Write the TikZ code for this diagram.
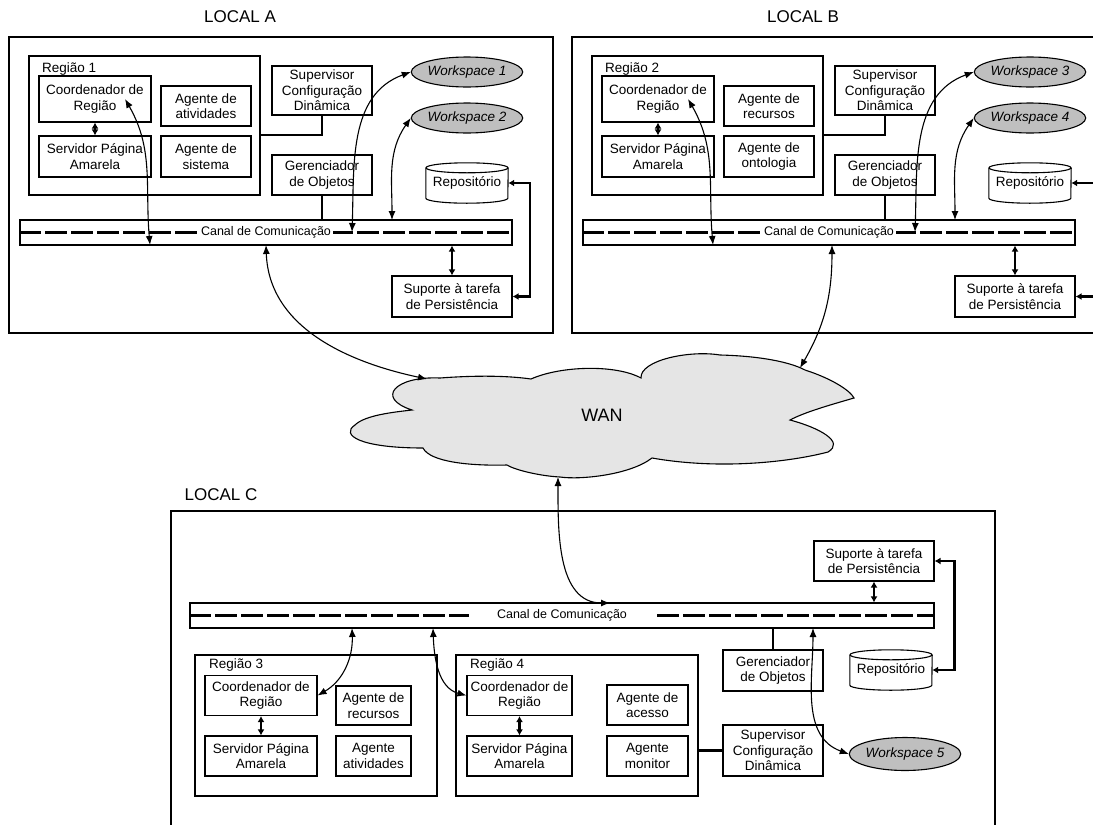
\documentclass[tikz,border=0pt]{standalone}
\usepackage{fontspec}
\setmainfont{Liberation Sans}
\usetikzlibrary{arrows.meta,shapes.geometric}

\tikzset{
	caixa/.style={draw, line width=1.1pt, align=center, inner sep=0pt, font=\fontsize{13.5}{15.5}\selectfont},
	regiao/.style={draw, line width=2.5pt, inner sep=0pt},
	local/.style={draw, line width=2.9pt, inner sep=0pt},
	rotulo/.style={anchor=west, inner sep=0pt, font=\fontsize{13.5}{15.5}\selectfont},
	titulo/.style={font=\fontsize{17}{20}\selectfont},
	ws/.style={ellipse, draw, line width=1.1pt, fill=gray!50, inner sep=0pt, minimum width=111pt, minimum height=30pt, font=\fontsize{13.5}{15.5}\selectfont\itshape},
	canal/.style={draw, line width=1.1pt, inner sep=0pt, minimum height=25pt},
	trilha/.style={line width=2.3pt, dash pattern=on 22pt off 4pt},
	nomecanal/.style={fill=white, inner ysep=1pt, font=\fontsize{12.5}{15}\selectfont},
	repo/.style={inner sep=0pt, minimum width=82pt, minimum height=30pt, font=\fontsize{13.5}{15.5}\selectfont},
	liga/.style={line width=2.5pt},
	dupla/.style={{Latex[length=6pt,width=7pt]}-{Latex[length=6pt,width=7pt]}, line width=2.2pt},
	seta/.style={{Latex[length=9pt,width=7pt]}-{Latex[length=9pt,width=7pt]}, line width=1.1pt},
}

\newcommand{\cilindro}[1]{%
	\draw[line width=1.1pt] (#1.north west) -- (#1.south west) arc[start angle=180, end angle=360, x radius=41pt, y radius=5pt] -- (#1.north east);
	\draw[line width=1.1pt] (#1.north) ellipse[x radius=41pt, y radius=5pt];
}

\begin{document}
\begin{tikzpicture}[x=1pt, y=-1pt]
	\useasboundingbox (0,0) rectangle (1093,825);
	\clip (0,0) rectangle (1093,825);

	% WAN
	\draw[line width=1.1pt, fill=gray!20]
		(412,410) .. controls (375,398) and (395,376) .. (440,378)
		.. controls (480,375) and (510,376) .. (531,379)
		.. controls (560,366) and (615,364) .. (641,378)
		.. controls (640,360) and (690,350) .. (720,355)
		.. controls (760,356) and (790,362) .. (805,370)
		.. controls (830,378) and (850,390) .. (854,398)
		.. controls (830,405) and (805,412) .. (790,420)
		.. controls (820,428) and (845,442) .. (828,452)
		.. controls (790,462) and (720,470) .. (652,458)
		.. controls (630,475) and (580,480) .. (560,477)
		.. controls (540,476) and (515,470) .. (507,465)
		.. controls (470,466) and (430,462) .. (423,448)
		.. controls (360,448) and (340,435) .. (355,425)
		.. controls (365,415) and (395,412) .. (412,410) -- cycle;
	\node[font=\fontsize{18}{20}\selectfont] (wan) at (602,415) {WAN};
	\coordinate (wanA) at (427,379);
	\coordinate (wanB) at (800,368);
	\coordinate (wanC) at (558,477);

	% LOCAL A
	\node[titulo] (tituloA) at (240,17) {LOCAL A};
	\node[local, minimum width=544pt, minimum height=296pt] (localA) at (281,185) {};
	\node[regiao, minimum width=231pt, minimum height=139pt] (reg1) at (144.5,125.5) {};
	\node[rotulo] (nomereg1) at (42,69) {Região 1};
	\node[caixa, minimum width=112pt, minimum height=46pt] (coordA) at (95,99) {Coordenador de\\Região};
	\node[caixa, minimum width=112pt, minimum height=41pt] (servA) at (95,156.5) {Servidor Página\\Amarela};
	\node[caixa, minimum width=90pt, minimum height=40pt] (ativA) at (206,106) {Agente de\\atividades};
	\node[caixa, minimum width=90pt, minimum height=41pt] (sistA) at (206,156.5) {Agente de\\sistema};
	\node[caixa, minimum width=100pt, minimum height=49pt] (supA) at (322,90.5) {Supervisor\\Configuração\\Dinâmica};
	\node[caixa, minimum width=100pt, minimum height=40pt] (gerA) at (322,175) {Gerenciador\\de Objetos};
	\node[ws] (ws1) at (467,72) {Workspace 1};
	\node[ws] (ws2) at (467,118) {Workspace 2};
	\node[repo] (repA) at (467,183) {Repositório};
	\cilindro{repA}
	\node[canal, minimum width=492pt] (canalA) at (266,232.5) {};
	\draw[trilha] (canalA.west) -- (canalA.east);
	\node[nomecanal, inner xsep=2pt] (txtA) at (canalA) {Canal de Comunicação};
	\node[caixa, minimum width=120pt, minimum height=41pt] (supoA) at (452,296.5) {Suporte à tarefa\\de Persistência};
	\coordinate (cA1) at (150,245);
	\coordinate (cA2) at (352,232);
	\coordinate (cA3) at (392,220);
	\coordinate (cA4) at (266,245);

	\draw[dupla] (coordA) -- (servA);
	\draw[liga] ([yshift=-9.5pt]reg1.east) -| (supA.south);
	\draw[line width=1.1pt] (gerA.south) -- (gerA.south |- canalA.north);
	\draw[dupla] (supoA.north) -- (supoA.north |- canalA.south);
	\draw[dupla, line width=2.5pt] (repA.east) -- ++(22,0) |- (supoA.east);
	\draw[seta] (cA1) to[out=95, in=-60] ([xshift=30pt]coordA.center);
	\draw[seta] (cA2) to[out=88, in=200] (ws1.west);
	\draw[seta] (cA3) to[out=90, in=235] (ws2.west);
	\draw[seta] (cA4) to[out=-88, in=168] (wanA);

	% LOCAL B
	\node[titulo] (tituloB) at (803,17) {LOCAL B};
	\node[local, minimum width=544pt, minimum height=296pt] (localB) at (844,185) {};
	\node[regiao, minimum width=231pt, minimum height=139pt] (reg2) at (707.5,125.5) {};
	\node[rotulo] (nomereg2) at (605,69) {Região 2};
	\node[caixa, minimum width=112pt, minimum height=46pt] (coordB) at (658,99) {Coordenador de\\Região};
	\node[caixa, minimum width=112pt, minimum height=41pt] (servB) at (658,156.5) {Servidor Página\\Amarela};
	\node[caixa, minimum width=90pt, minimum height=40pt] (recB) at (769,106) {Agente de\\recursos};
	\node[caixa, minimum width=90pt, minimum height=41pt] (ontoB) at (769,156.5) {Agente de\\ontologia};
	\node[caixa, minimum width=100pt, minimum height=49pt] (supB) at (885,90.5) {Supervisor\\Configuração\\Dinâmica};
	\node[caixa, minimum width=100pt, minimum height=40pt] (gerB) at (885,175) {Gerenciador\\de Objetos};
	\node[ws] (ws3) at (1030,72) {Workspace 3};
	\node[ws] (ws4) at (1030,118) {Workspace 4};
	\node[repo] (repB) at (1030,183) {Repositório};
	\cilindro{repB}
	\node[canal, minimum width=492pt] (canalB) at (829,232.5) {};
	\draw[trilha] (canalB.west) -- (canalB.east);
	\node[nomecanal, inner xsep=2pt] (txtB) at (canalB) {Canal de Comunicação};
	\node[caixa, minimum width=120pt, minimum height=41pt] (supoB) at (1015,296.5) {Suporte à tarefa\\de Persistência};
	\coordinate (cB1) at (713,245);
	\coordinate (cB2) at (915,232);
	\coordinate (cB3) at (955,220);
	\coordinate (cB4) at (832,245);

	\draw[dupla] (coordB) -- (servB);
	\draw[liga] ([yshift=-9.5pt]reg2.east) -| (supB.south);
	\draw[line width=1.1pt] (gerB.south) -- (gerB.south |- canalB.north);
	\draw[dupla] (supoB.north) -- (supoB.north |- canalB.south);
	\draw[dupla, line width=2.5pt] (repB.east) -- ++(28,0) |- (supoB.east);
	\draw[seta] (cB1) to[out=95, in=-60] ([xshift=30pt]coordB.center);
	\draw[seta] (cB2) to[out=88, in=200] (ws3.west);
	\draw[seta] (cB3) to[out=90, in=235] (ws4.west);
	\draw[seta] (cB4) to[out=-90, in=60] (wanB);

	% LOCAL C
	\node[titulo] (tituloC) at (221,495) {LOCAL C};
	\node[local, minimum width=824pt, minimum height=340pt] (localC) at (583,681) {};
	\node[canal, minimum width=744pt] (canalC) at (562,615.5) {};
	\draw[trilha] (canalC.west) -- (canalC.east);
	\node[nomecanal, inner xsep=28pt] (txtC) at (canalC) {Canal de Comunicação};
	\node[caixa, minimum width=120pt, minimum height=40pt] (supoC) at (874,561) {Suporte à tarefa\\de Persistência};
	\node[repo] (repC) at (891,670) {Repositório};
	\cilindro{repC}
	\node[caixa, line width=2.5pt, minimum width=100pt, minimum height=41pt] (gerC) at (773,670.5) {Gerenciador\\de Objetos};
	\node[caixa, minimum width=100pt, minimum height=51pt] (supC) at (773,750.5) {Supervisor\\Configuração\\Dinâmica};
	\node[ws, minimum height=33pt] (ws5) at (905,754) {Workspace 5};

	\node[regiao, minimum width=242pt, minimum height=141pt] (reg3) at (316,725.5) {};
	\node[rotulo] (nomereg3) at (209,665) {Região 3};
	\node[caixa, minimum width=112pt, minimum height=40pt] (coord3) at (261,695.5) {Coordenador de\\Região};
	\node[caixa, minimum width=112pt, minimum height=40pt] (serv3) at (261,756) {Servidor Página\\Amarela};
	\node[caixa, minimum width=75pt, minimum height=39pt] (rec3) at (373.5,705.5) {Agente de\\recursos};
	\node[caixa, minimum width=75pt, minimum height=40pt] (ativ3) at (373.5,756) {Agente\\atividades};

	\node[regiao, minimum width=242pt, minimum height=141pt] (reg4) at (577,725.5) {};
	\node[rotulo] (nomereg4) at (470,665) {Região 4};
	\node[caixa, minimum width=105pt, minimum height=40pt] (coord4) at (519.5,695.5) {Coordenador de\\Região};
	\node[caixa, minimum width=105pt, minimum height=40pt] (serv4) at (519.5,756) {Servidor Página\\Amarela};
	\node[caixa, minimum width=81pt, minimum height=40pt] (acesso4) at (647.5,705) {Agente de\\acesso};
	\node[caixa, minimum width=81pt, minimum height=40pt] (monitor4) at (647.5,756) {Agente\\monitor};
	\coordinate (cC1) at (352,628);
	\coordinate (cC2) at (433,628);
	\coordinate (cC3) at (813,628);
	\coordinate (cC4) at (610,603);

	\draw[dupla] (coord3) -- (serv3);
	\draw[dupla] (coord4) -- (serv4);
	\draw[liga] (supC.west) -- (supC.west -| reg4.east);
	\draw[line width=1.1pt] (gerC.north) -- (gerC.north |- canalC.south);
	\draw[dupla] (supoC.south) -- (supoC.south |- canalC.north);
	\draw[dupla, line width=2.5pt] (supoC.east) -- ++(20,0) |- (repC.east);
	\draw[seta] (cC1) to[out=-88, in=30] (coord3.east);
	\draw[seta] (cC2) to[out=-88, in=165] (coord4.west);
	\draw[seta] (cC3) to[out=-90, in=160] (ws5.west);
	\draw[seta] (wanC) to[out=-90, in=180] (cC4);
\end{tikzpicture}
\end{document}
